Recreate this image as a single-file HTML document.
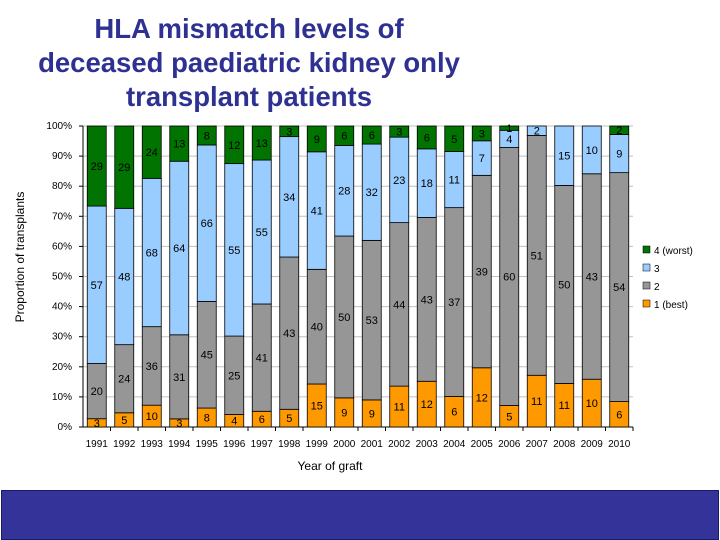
<!DOCTYPE html>
<html><head><meta charset="utf-8"><style>
body{margin:0;width:720px;height:540px;background:#fff;overflow:hidden;font-family:"Liberation Sans",Arial,sans-serif;position:relative}
#title{position:absolute;left:0;width:498px;top:12px;text-align:center;font-size:27.5px;font-weight:bold;color:#2e3192;line-height:34px}
#band{position:absolute;left:1px;top:490px;width:716px;height:48px;background:#333399;border:1px solid #1a1a66}
</style></head><body>
<div id="title">HLA mismatch levels of<br>deceased paediatric kidney only<br>transplant patients</div>
<svg id="chart" width="720" height="540" style="position:absolute;left:0;top:0"></svg>
<div id="band"></div>
<script>
const years=["1991","1992","1993","1994","1995","1996","1997","1998","1999","2000","2001","2002","2003","2004","2005","2006","2007","2008","2009","2010"];
const mm1=[3,5,10,3,8,4,6,5,15,9,9,11,12,6,12,5,11,11,10,6];
const mm2=[20,24,36,31,45,25,41,43,40,50,53,44,43,37,39,60,51,50,43,54];
const mm3=[57,48,68,64,66,55,55,34,41,28,32,23,18,11,7,4,2,15,10,9];
const mm4=[29,29,24,13,8,12,13,3,9,6,6,3,6,5,3,1,0,0,0,2];
const seriesNames=["1 (best)","2","3","4 (worst)"];
const colors=["#ff9900","#969696","#99ccff","#007300"];
const yTicks=[0,10,20,30,40,50,60,70,80,90,100];
const svg=document.getElementById('chart');
const NS="http://www.w3.org/2000/svg";
const X0=83,X1=633,Y0=427,Y1=126;
const bw=(X1-X0)/years.length, barW=19;
const y=p=>Y0-(Y0-Y1)*p/100;
function mk(t,a,txt){const e=document.createElementNS(NS,t);for(const k in a)e.setAttribute(k,a[k]);if(txt!==undefined)e.textContent=txt;svg.appendChild(e);return e;}
yTicks.forEach(t=>{
 const g=mk('line',{x1:X0,x2:X1,y1:y(t),y2:y(t),stroke:'#c0c0c0','stroke-width':1});
 
 
 const l=mk('text',{x:72,y:y(t)+3,'text-anchor':'end','font-size':10,fill:'#000'},t+'%');
 
 
 mk('line',{x1:X0-4,x2:X0,y1:y(t),y2:y(t),stroke:'#000'});
});
mk('line',{x1:X0,x2:X0,y1:Y1,y2:Y0,stroke:'#000'});
mk('line',{x1:X0,x2:X1,y1:Y0,y2:Y0,stroke:'#000'});
const series=[mm1,mm2,mm3,mm4];
years.forEach((yr,i)=>{
 const tot=series.reduce((s,a)=>s+a[i],0);
 let cum=0;
 const cx=X0+bw*(i+0.5);
 mk('line',{x1:X0+bw*(i+1),x2:X0+bw*(i+1),y1:Y0,y2:Y0+4,stroke:'#000'});
 series.forEach((a,s)=>{
  const v=a[i]; if(!v)return;
  const p0=cum/tot*100,p1=(cum+v)/tot*100; cum+=v;
  const r=mk('rect',{x:cx-barW/2,y:y(p1),width:barW,height:y(p0)-y(p1),fill:colors[s],stroke:'#000','stroke-width':0.8});
  
  
  const t=mk('text',{x:cx,y:(y(p0)+y(p1))/2+4,'text-anchor':'middle','font-size':11,fill:'#000'},v);
  
  
 });
 const xl=mk('text',{x:cx,y:447,'text-anchor':'middle','font-size':10,fill:'#000'},yr);
 
 
});
const xt=mk('text',{x:330,y:470,'text-anchor':'middle','font-size':12},'Year of graft');


const yt=mk('text',{x:0,y:0,'text-anchor':'middle','font-size':12,transform:'translate(24,257) rotate(-90)'},'Proportion of transplants');


[3,2,1,0].forEach((s,k)=>{
 const ly=251+k*18;
 const r=mk('rect',{x:643,y:ly-5,width:7,height:7,fill:colors[s],stroke:'#000','stroke-width':0.5});
 
 
 const t=mk('text',{x:654,y:ly+3,'font-size':10},seriesNames[s]);
 
 
});
</script>
</body></html>
